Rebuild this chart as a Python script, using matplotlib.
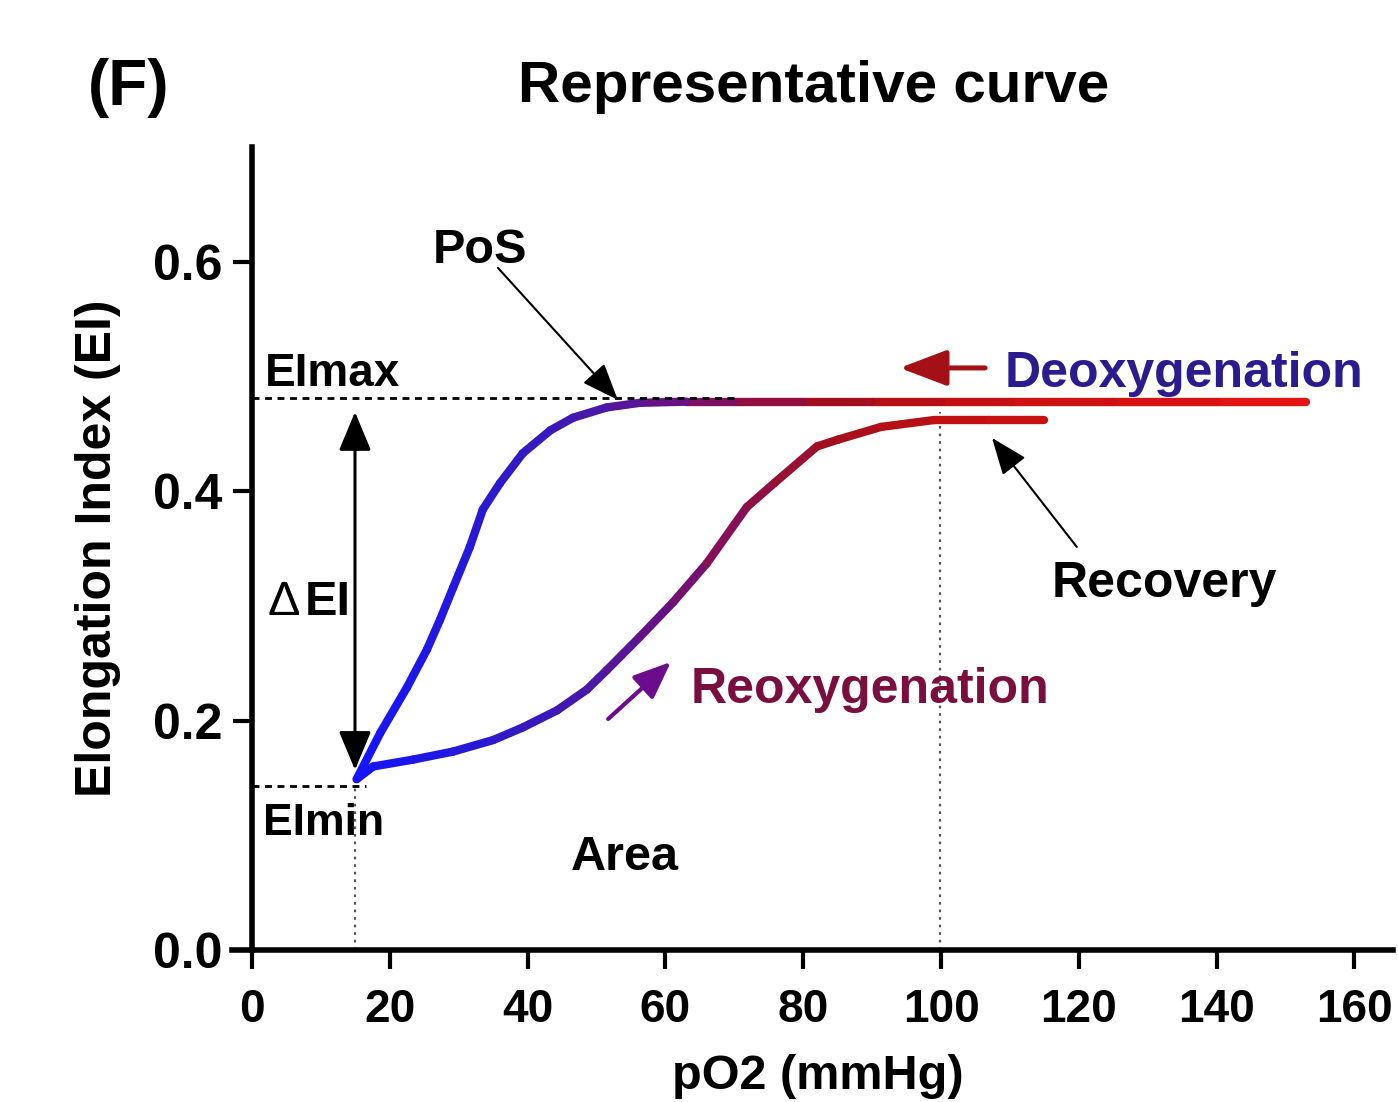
import numpy as np
import matplotlib
matplotlib.use('Agg')
import matplotlib.pyplot as plt
from matplotlib.collections import LineCollection
from matplotlib.colors import LinearSegmentedColormap, Normalize
from matplotlib.patches import FancyArrowPatch

plt.rcParams['font.family'] = ['Liberation Sans', 'DejaVu Sans']

# ---- data ----
deoxy_po2 = [153, 140, 125, 110, 100, 90, 80, 70, 63, 56.3, 51.5, 46.6, 43.3, 39.3,
             36.0, 33.5, 31.6, 29.2, 27.3, 25.4, 22.5, 18.6, 15.2]
deoxy_ei = [0.478, 0.478, 0.478, 0.478, 0.478, 0.478, 0.478, 0.478, 0.478, 0.477, 0.473,
            0.464, 0.453, 0.433, 0.407, 0.384, 0.351, 0.316, 0.288, 0.262, 0.229, 0.189, 0.149]

reoxy_po2 = [15.2, 17.6, 23.4, 29.2, 35.0, 39.3, 44.3, 48.6, 51.5, 56.3, 61.1, 66.0,
             71.8, 75.8, 82.0, 85.1, 91.3, 99.0, 107.0, 115.0]
reoxy_ei = [0.149, 0.160, 0.166, 0.173, 0.183, 0.194, 0.209, 0.227, 0.244, 0.273, 0.303,
            0.337, 0.386, 0.407, 0.439, 0.445, 0.456, 0.462, 0.462, 0.462]

x_ticks = [0, 20, 40, 60, 80, 100, 120, 140, 160]
y_ticks = [0.0, 0.2, 0.4, 0.6]
y_ticklabels = ['0.0', '0.2', '0.4', '0.6']

ei_max = 0.4815
ei_min = 0.143
ei_min_po2 = 14.95
recovery_po2 = 99.85
pos_po2 = 53.1

# ---- figure ----
W, H = 1398, 1102
fig = plt.figure(figsize=(W / 100, H / 100), dpi=100)
ax = fig.add_axes([232 / W, 152 / H, 1161 / W, 803 / H])
ax.set_xlim(-2.9, 165.6)
ax.set_ylim(0, 0.70)

for s in ['top', 'right']:
    ax.spines[s].set_visible(False)
ax.spines['left'].set_position(('data', 0))
ax.spines['left'].set_bounds(0, 0.70)
ax.spines['left'].set_linewidth(4.0)
ax.spines['bottom'].set_linewidth(4.0)

ax.set_xticks(x_ticks)
ax.set_xticklabels([str(v) for v in x_ticks])
ax.set_yticks(y_ticks)
ax.set_yticklabels(y_ticklabels)
ax.tick_params(axis='both', direction='out', length=13.5, width=3)
ax.tick_params(axis='x', pad=14, labelsize=33)
ax.tick_params(axis='y', pad=8, labelsize=36)
for lab in ax.get_xticklabels() + ax.get_yticklabels():
    lab.set_fontweight('bold')

# ---- gradient colormap (blue -> purple -> dark red -> red) ----
cmap = LinearSegmentedColormap.from_list('oxy', [
    (0.00, '#1414ff'),
    (0.14, '#2a1ad0'),
    (0.25, '#4a18a8'),
    (0.33, '#6a1080'),
    (0.40, '#8a1050'),
    (0.50, '#a01020'),
    (0.62, '#c01010'),
    (1.00, '#e81414'),
])
norm = Normalize(15, 153)


def gradient_line(xs, ys, lw):
    xs = np.asarray(xs, float)
    ys = np.asarray(ys, float)
    pts = np.column_stack([xs, ys]).reshape(-1, 1, 2)
    segs = np.concatenate([pts[:-1], pts[1:]], axis=1)
    mids = 0.5 * (xs[:-1] + xs[1:])
    lc = LineCollection(segs, colors=cmap(norm(mids)), linewidths=lw,
                        capstyle='round', joinstyle='round', zorder=3)
    ax.add_collection(lc)


gradient_line(reoxy_po2, reoxy_ei, 6)
gradient_line(deoxy_po2, deoxy_ei, 6)

# ---- reference lines ----
ax.plot([0, 70], [ei_max, ei_max], color='black', lw=2, ls=(0, (2.5, 2)), zorder=4)
ax.plot([0, 16.5], [ei_min, ei_min], color='black', lw=2, ls=(0, (2.5, 2)), zorder=4)
ax.plot([ei_min_po2, ei_min_po2], [0, ei_min], color='#555555', lw=1.6,
        ls=(0, (1.2, 2.2)), zorder=2)
ax.plot([recovery_po2, recovery_po2], [0, 0.469], color='#555555', lw=1.6,
        ls=(0, (1.2, 2.2)), zorder=2)


def arrow(tail, tip, style, lw, color, hl, hw):
    p = FancyArrowPatch(tail, tip, arrowstyle=f'{style},head_length={hl},head_width={hw}',
                        lw=lw, color=color, shrinkA=0, shrinkB=0, mutation_scale=1,
                        zorder=5)
    ax.add_patch(p)


# PoS arrow
arrow((35.7, 0.5946), (53.1, 0.4795), '-|>', 1.5, 'black', 23, 9)
# Recovery arrow
arrow((119.7, 0.3514), (107.4, 0.4464), '-|>', 1.5, 'black', 23, 9)
# Deoxygenation arrow
arrow((106.4, 0.5074), (94.0, 0.5074), '-|>', 3.6, '#a31015', 29, 11)
# Reoxygenation arrow
arrow((51.7, 0.2014), (60.8, 0.2511), '-|>', 3.0, '#6a0c8c', 23, 9.5)
# Delta EI double arrow
arrow((ei_min_po2, 0.157), (ei_min_po2, 0.469), '<|-|>', 2.2, 'black', 24, 10)

# ---- annotations ----
ax.text(33.1, 0.599, 'PoS', fontsize=35, fontweight='bold', ha='center', va='baseline')
ax.text(1.8, 0.4917, 'EImax', fontsize=33, fontweight='bold', ha='left', va='baseline')
ax.text(1.6, 0.1000, 'EImin', fontsize=32, fontweight='bold', ha='left', va='baseline')
ax.text(2.2, 0.292, 'Δ', fontsize=35, fontweight='normal', ha='left', va='baseline')
ax.text(7.7, 0.292, 'EI', fontsize=35, fontweight='bold', ha='left', va='baseline')
ax.text(46.2, 0.0697, 'Area', fontsize=35, fontweight='bold', ha='left', va='baseline')
ax.text(63.6, 0.2153, 'Reoxygenation', fontsize=36, fontweight='bold', ha='left',
        va='baseline', color='#7a0f3f')
ax.text(109.3, 0.4908, 'Deoxygenation', fontsize=36, fontweight='bold', ha='left',
        va='baseline', color='#2b1b8f')
ax.text(116.1, 0.3078, 'Recovery', fontsize=36, fontweight='bold', ha='left',
        va='baseline')

# ---- titles and axis labels ----
fig.text(88 / W, 1 - 105 / H, '(F)', fontsize=46, fontweight='bold', ha='left', va='baseline')
fig.text(814 / W, 1 - 102 / H, 'Representative curve', fontsize=42, fontweight='bold',
         ha='center', va='baseline')
fig.text(818 / W, 1 - 1089 / H, 'pO2 (mmHg)', fontsize=35, fontweight='bold',
         ha='center', va='baseline')
fig.text(98 / W, 1 - 548 / H, 'Elongation Index (EI)', fontsize=36, fontweight='bold',
         rotation=90, ha='center', va='center')

fig.savefig('out.png', dpi=100)
